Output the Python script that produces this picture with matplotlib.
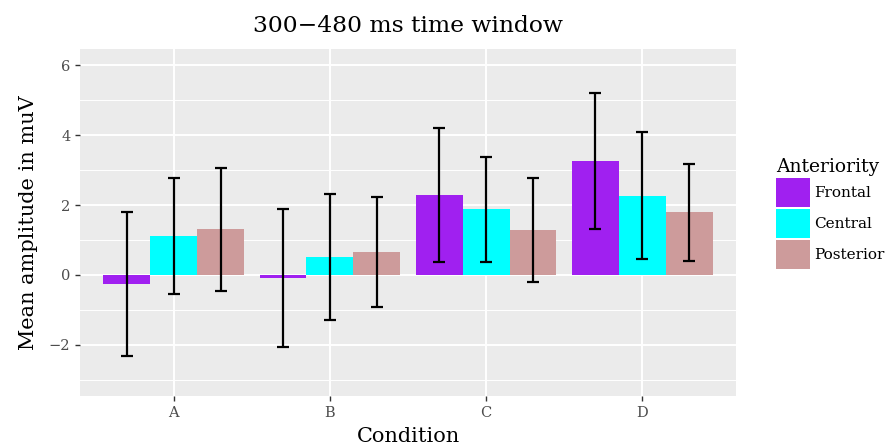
import numpy as np
import matplotlib
matplotlib.use('Agg')
from matplotlib import pyplot as plt
from matplotlib.patches import Patch

# datos
conditions = ['A', 'B', 'C', 'D']
groups = ['Frontal', 'Central', 'Posterior']
colors = ['#A020F0', '#00FFFF', '#CD9B9B']

means = {
  'Frontal':   [-0.26, -0.08, 2.29, 3.26],
  'Central':   [1.11, 0.51, 1.89, 2.26],
  'Posterior': [1.31, 0.66, 1.29, 1.80],
}
err_low = {
  'Frontal':   [-2.32, -2.06, 0.36, 1.31],
  'Central':   [-0.55, -1.30, 0.38, 0.45],
  'Posterior': [-0.46, -0.91, -0.20, 0.39],
}
err_high = {
  'Frontal':   [1.81, 1.90, 4.21, 5.21],
  'Central':   [2.76, 2.32, 3.38, 4.08],
  'Posterior': [3.06, 2.24, 2.78, 3.18],
}

plt.rcParams['font.family'] = ['DejaVu Serif']

fig = plt.figure(figsize=(8.89, 4.48), dpi=100)
ax = fig.add_axes([80/889, 52/448, 656/889, 347/448])
ax.set_facecolor('#EBEBEB')

x = np.arange(len(conditions))
w = 0.3
for i, g in enumerate(groups):
  pos = x + (i - 1) * w
  ax.bar(pos, means[g], width=w, color=colors[i], zorder=2)
  lo = np.array(means[g]) - np.array(err_low[g])
  hi = np.array(err_high[g]) - np.array(means[g])
  ax.errorbar(pos, means[g], yerr=[lo, hi], fmt='none', ecolor='black',
              elinewidth=1.6, capsize=4.5, capthick=1.6, zorder=3)

ax.set_xlim(-0.6, 3.6)
ax.set_ylim(-3.46, 6.46)
ax.set_xticks(x)
ax.set_xticklabels(conditions)
ax.set_yticks([-2, 0, 2, 4, 6])
ax.set_yticklabels(['\u22122', '0', '2', '4', '6'])
ax.set_yticks([-3, -1, 1, 3, 5], minor=True)
ax.grid(which='major', color='white', linewidth=1.4, zorder=0)
ax.grid(which='minor', axis='y', color='white', linewidth=0.7, zorder=0)
ax.set_axisbelow(True)
for s in ax.spines.values():
  s.set_visible(False)
ax.tick_params(which='major', length=3.5, color='#333333', labelcolor='#4D4D4D',
               labelsize=10.5, width=1)
ax.tick_params(which='minor', length=0)

ax.set_xlabel('Condition', fontsize=15, labelpad=5)
ax.set_ylabel('Mean amplitude in muV', fontsize=15, labelpad=8)
ax.set_title('300\u2212480 ms time window', fontsize=16.8, pad=12)

handles = [Patch(facecolor=colors[i], label=g) for i, g in enumerate(groups)]
leg = fig.legend(handles=handles, title='Anteriority', loc='upper left',
                 bbox_to_anchor=(770/889, 1 - 152/448), frameon=False,
                 fontsize=11, title_fontsize=13.5, handlelength=2.2,
                 handleheight=2.5, handletextpad=0.3, labelspacing=0.15,
                 borderaxespad=0)
leg._legend_box.align = 'left'

fig.savefig('out.png', dpi=100)
